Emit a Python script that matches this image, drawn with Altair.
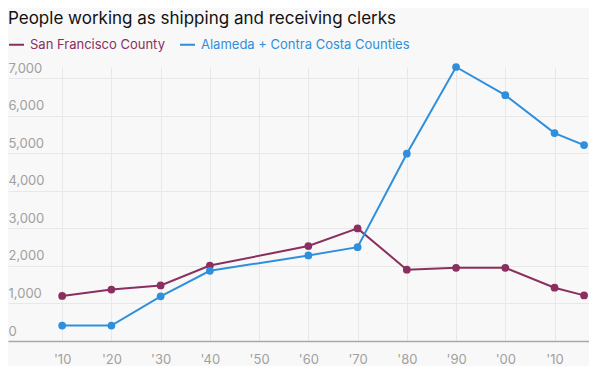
import altair as alt
import pandas as pd

years_sf = [1910, 1920, 1930, 1940, 1960, 1970, 1980, 1990, 2000, 2010, 2016]
sf_values = [1200, 1370, 1480, 2010, 2530, 3000, 1900, 1950, 1950, 1420, 1215]
years_al = [1910, 1920, 1930, 1940, 1960, 1970, 1980, 1990, 2000, 2010, 2016]
al_values = [410, 410, 1190, 1870, 2280, 2500, 4990, 7300, 6550, 5540, 5220]

series = ["San Francisco County", "Alameda + Contra Costa Counties"]
colors = ["#8a2f5f", "#2f8fdc"]
x_ticks = list(range(1910, 2011, 10))
y_ticks = list(range(0, 7001, 1000))

df = pd.concat([
    pd.DataFrame({"year": years_sf, "value": sf_values, "series": series[0]}),
    pd.DataFrame({"year": years_al, "value": al_values, "series": series[1]}),
])

label_color = "datum.value == '%s' ? '%s' : '%s'" % (series[0], colors[0], colors[1])

color = alt.Color(
    "series:N",
    scale=alt.Scale(domain=series, range=colors),
    legend=alt.Legend(
        title=None,
        orient="none",
        legendX=0,
        legendY=-31,
        direction="horizontal",
        symbolType="stroke",
        symbolSize=225,
        symbolStrokeWidth=2,
        labelFontSize=13,
        labelFont="Inter",
        labelColor=alt.expr(label_color),
        labelLimit=400,
        labelOffset=5,
        columnPadding=11,
    ),
)

x = alt.X(
    "year:Q",
    scale=alt.Scale(domain=[1899, 2017], nice=False, zero=False),
    axis=alt.Axis(
        title=None,
        values=x_ticks,
        labelExpr="\"'\" + substring(toString(datum.value), 2)",
        ticks=False,
        tickSize=0,
        labelPadding=12,
        labelColor="#a0a0a0",
        labelFontSize=13,
        labelFont="Inter",
        domainColor="#a8a8a8",
        domainWidth=1.5,
        gridColor="#e8e8e8",
        gridWidth=1,
    ),
)
y = alt.Y(
    "value:Q",
    scale=alt.Scale(domain=[0, 7300], nice=False),
    axis=alt.Axis(
        title=None,
        values=y_ticks,
        format=",d",
        ticks=False,
        tickSize=0,
        domain=False,
        labelAlign="left",
        labelBaseline="bottom",
        labelPadding=0,
        labelOffset=-3,
        labelColor="#a0a0a0",
        labelFontSize=13,
        labelFont="Inter",
        gridColor="#e8e8e8",
        gridWidth=1,
        minExtent=0,
        maxExtent=0,
    ),
)

base = alt.Chart(df).encode(x=x, y=y, color=color, order="year:Q")
lines = base.mark_line(strokeWidth=2)
points = base.mark_circle(size=60, opacity=1)

chart = (
    alt.layer(lines, points)
    .properties(
        width=581,
        height=274,
        padding={"top": 2, "left": 0, "right": 0, "bottom": 0},
        background="#f8f8f8",
        title=alt.TitleParams(
            "People working as shipping and receiving clerks",
            anchor="start",
            font="Inter",
            fontSize=17,
            fontWeight="normal",
            color="#111111",
            offset=8,
        ),
    )
    .configure_view(stroke=None)
)

chart.save("out.html", embed_options={"renderer": "svg", "actions": False})
